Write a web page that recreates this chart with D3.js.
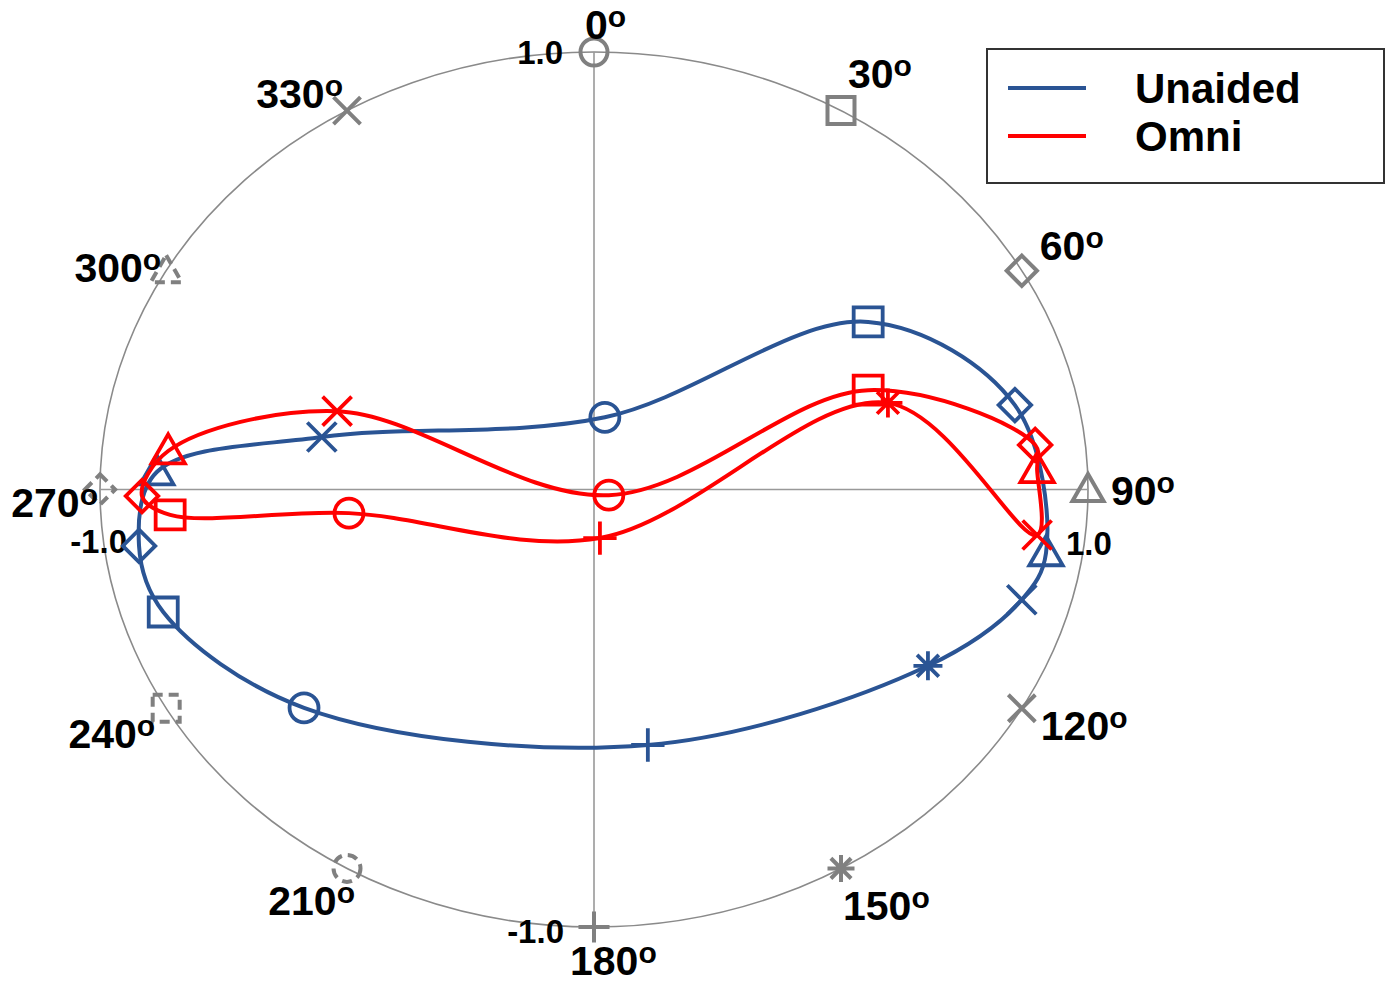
<!DOCTYPE html>
<html>
<head>
<meta charset="utf-8">
<script src="https://cdn.jsdelivr.net/npm/d3@7"></script>
<style>
  body { margin: 0; background: #fff; }
  svg { display: block; }
  text { font-family: "Liberation Sans", Arial, Helvetica, sans-serif; font-weight: bold; fill: #000; }
</style>
</head>
<body>
<svg id="chart" width="1385" height="983"></svg>
<script>
// Source angles (degrees, clockwise from the front) and their marker shapes
const angles = [0, 30, 60, 90, 120, 150, 180, 210, 240, 270, 300, 330];
const markerKinds = ["circle", "square", "diamond", "triangle", "times", "asterisk",
                     "plus", "circle", "square", "diamond", "triangle", "times"];
// Rear-hemisphere reference markers are drawn dashed
const dashedAngles = [210, 240, 270, 300];

// Response positions (x: left/right, y: front/back), one per source angle
const unaidedX = [0.022, 0.555, 0.852, 0.915, 0.866, 0.676, 0.109, -0.587, -0.872, -0.921, -0.885, -0.551];
const unaidedY = [0.165, 0.383, 0.193, -0.145, -0.252, -0.403, -0.584, -0.499, -0.280, -0.129, 0.040, 0.120];
const omniX = [0.030, 0.555, 0.893, 0.897, 0.897, 0.595, 0.012, -0.496, -0.858, -0.915, -0.862, -0.520];
const omniY = [-0.013, 0.227, 0.102, 0.045, -0.104, 0.198, -0.111, -0.054, -0.058, -0.015, 0.088, 0.179];

const seriesNames = ["Unaided", "Omni"];
const seriesColors = ["#2a5494", "#ff0000"];
const tickValues = [1, -1];

const svg = d3.select("#chart");

// Unit-circle scales (the circle renders as an ellipse)
const x = d3.scaleLinear().domain([-1, 1]).range([100, 1088]);
const y = d3.scaleLinear().domain([-1, 1]).range([927, 52]);
const rad = d => d * Math.PI / 180;
const onRing = a => [x(Math.sin(rad(a))), y(Math.cos(rad(a)))];

// Marker shapes centred on the origin
function markerPath(kind, s) {
  const p = d3.path();
  const d = s * 1.12;
  switch (kind) {
    case "circle": p.arc(0, 0, s, 0, 2 * Math.PI); p.closePath(); break;
    case "square": p.rect(-s, -s, 2 * s, 2 * s); break;
    case "diamond": p.moveTo(0, -d); p.lineTo(d, 0); p.lineTo(0, d); p.lineTo(-d, 0); p.closePath(); break;
    case "triangle": p.moveTo(0, -s * 1.15); p.lineTo(s * 1.15, s * 0.85); p.lineTo(-s * 1.15, s * 0.85); p.closePath(); break;
    case "times": p.moveTo(-s, -s); p.lineTo(s, s); p.moveTo(s, -s); p.lineTo(-s, s); break;
    case "plus": p.moveTo(-s * 1.15, 0); p.lineTo(s * 1.15, 0); p.moveTo(0, -s * 1.15); p.lineTo(0, s * 1.15); break;
    case "asterisk":
      p.moveTo(-s, 0); p.lineTo(s, 0); p.moveTo(0, -s); p.lineTo(0, s);
      p.moveTo(-s * 0.75, -s * 0.75); p.lineTo(s * 0.75, s * 0.75);
      p.moveTo(s * 0.75, -s * 0.75); p.lineTo(-s * 0.75, s * 0.75);
      break;
  }
  return p.toString();
}

// Frame: unit ellipse and the two axes
svg.append("ellipse")
  .attr("cx", x(0)).attr("cy", y(0))
  .attr("rx", x(1) - x(0)).attr("ry", y(-1) - y(0))
  .attr("fill", "none").attr("stroke", "#8a8a8a").attr("stroke-width", 1.6);
svg.append("line")
  .attr("x1", x(-1)).attr("x2", x(1)).attr("y1", y(0)).attr("y2", y(0))
  .attr("stroke", "#999").attr("stroke-width", 1.6);
svg.append("line")
  .attr("x1", x(0)).attr("x2", x(0)).attr("y1", y(1)).attr("y2", y(-1))
  .attr("stroke", "#999").attr("stroke-width", 1.6);

// Reference markers on the ring
svg.append("g").selectAll("path")
  .data(angles)
  .join("path")
  .attr("transform", a => `translate(${onRing(a)})`)
  .attr("d", (a, i) => markerPath(markerKinds[i], 13.5))
  .attr("fill", "none")
  .attr("stroke", "#808080")
  .attr("stroke-width", 4)
  .attr("stroke-dasharray", a => dashedAngles.includes(a) ? "10 6" : null);

// Angle labels: offset and anchor per position around the ring
const labelLayout = {
  0: [-9, -13, "start"], 30: [7, -23, "start"], 60: [18, -11, "start"],
  90: [23, 15, "start"], 120: [19, 32, "start"], 150: [2, 52, "start"],
  180: [-24, 48, "start"], 210: [8, 47, "end"], 240: [-11, 40, "end"],
  270: [-2, 27, "end"], 300: [-5, 11, "end"], 330: [-4, -3, "end"]
};
const angleText = svg.append("g").selectAll("text")
  .data(angles)
  .join("text")
  .attr("x", a => onRing(a)[0] + labelLayout[a][0])
  .attr("y", a => onRing(a)[1] + labelLayout[a][1])
  .attr("text-anchor", a => labelLayout[a][2])
  .style("font-size", "41px");
angleText.append("tspan").text(a => String(a));
angleText.append("tspan").attr("dy", -12).style("font-size", "30px").text("o");

// Radius tick labels at the ends of the axes
const fmt = v => d3.format(".1f")(v).replace("\u2212", "-");
const tickLayout = [
  { v: tickValues[0], px: x(0) - 31, py: y(1) + 12, anchor: "end" },
  { v: tickValues[1], px: x(0) - 30, py: y(-1) + 16, anchor: "end" },
  { v: tickValues[1], px: x(-1) + 27, py: y(0) + 63, anchor: "end" },
  { v: tickValues[0], px: x(1) - 22, py: y(0) + 65, anchor: "start" }
];
svg.append("g").selectAll("text")
  .data(tickLayout)
  .join("text")
  .attr("x", d => d.px).attr("y", d => d.py)
  .attr("text-anchor", d => d.anchor)
  .style("font-size", "33px")
  .text(d => fmt(d.v));

// Response curves with their markers
const curve = d3.line().x(d => x(d[0])).y(d => y(d[1])).curve(d3.curveCatmullRomClosed.alpha(0.5));
const series = [
  d3.zip(unaidedX, unaidedY),
  d3.zip(omniX, omniY)
];
series.forEach((pts, si) => {
  const g = svg.append("g");
  g.append("path")
    .attr("d", curve(pts))
    .attr("fill", "none")
    .attr("stroke", seriesColors[si])
    .attr("stroke-width", 4);
  g.selectAll("path.m")
    .data(pts)
    .join("path")
    .attr("class", "m")
    .attr("transform", d => `translate(${x(d[0])},${y(d[1])})`)
    .attr("d", (d, i) => markerPath(markerKinds[i], 14.5))
    .attr("fill", "none")
    .attr("stroke", seriesColors[si])
    .attr("stroke-width", 3.8);
});

// Legend
const legend = svg.append("g").attr("transform", "translate(987,49)");
legend.append("rect")
  .attr("width", 397).attr("height", 134)
  .attr("fill", "#fff").attr("stroke", "#333").attr("stroke-width", 2);
seriesNames.forEach((name, i) => {
  const ly = 39 + i * 48;
  legend.append("line")
    .attr("x1", 21).attr("x2", 99).attr("y1", ly).attr("y2", ly)
    .attr("stroke", seriesColors[i]).attr("stroke-width", 4);
  legend.append("text")
    .attr("x", 148).attr("y", ly + 15)
    .style("font-size", "42px")
    .text(name);
});
</script>
</body>
</html>
